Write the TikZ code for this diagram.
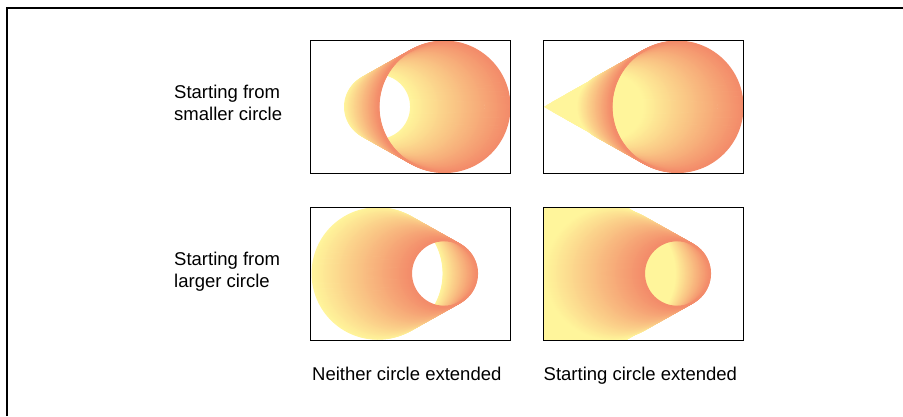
\documentclass[tikz,border=0pt]{standalone}
\usepackage{fontspec}
\setmainfont{Liberation Sans}
\usepackage{tikz}
\definecolor{gStart}{HTML}{FFF59B}
\definecolor{gEnd}{HTML}{F38C6A}

% #1,#2 lower left corner, #3 start radius, #4 end radius, #5 = 1 extends the start circle
\newcommand{\conepanel}[5]{%
  \begin{scope}[shift={(#1,#2)}]
    \begin{scope}
      \clip (0,0) rectangle (200,133);
      \ifnum#5=1
        \foreach \i in {0,...,150} {
          \pgfmathsetmacro{\t}{-\i/50}
          \pgfmathsetmacro{\r}{#3+(#4-#3)*\t}
          \ifdim\r pt>0pt
            \fill[gStart] (67.5+66.5*\t,66.5) circle (\r);
          \fi
        }
      \fi
      \foreach \i in {0,...,100} {
        \pgfmathsetmacro{\r}{#3+(#4-#3)*\i/100}
        \draw[ring, gEnd!\i!gStart] (67.5+0.665*\i,66.5) circle (\r);
      }
    \end{scope}
    \draw[panelbox] (0,0) rectangle (200,133);
  \end{scope}
}

\begin{document}
\begin{tikzpicture}[x=1pt, y=1pt,
    ring/.style={line width=1.5pt},
    panelbox/.style={draw=black, line width=0.9pt},
    lbl/.style={font=\fontsize{18.5}{22}\selectfont, inner sep=0pt, align=left}]
  \useasboundingbox (0,0) rectangle (903,416);
  \draw[line width=1.3pt] (7,0) -- (7,408) -- (903,408);
  \conepanel{310.3}{242.7}{33}{65.5}{0}
  \conepanel{543.3}{242.7}{33}{65.5}{1}
  \conepanel{310.3}{76}{65.5}{33}{0}
  \conepanel{543.3}{76}{65.5}{33}{1}
  \node[lbl, anchor=north west] (smaller) at (174,331.5) {Starting from\\smaller circle};
  \node[lbl, anchor=north west] (larger) at (174,164.5) {Starting from\\larger circle};
  \node[lbl, anchor=base west] (neither) at (312,36) {Neither circle extended};
  \node[lbl, anchor=base west] (extended) at (543.5,36) {Starting circle extended};
\end{tikzpicture}
\end{document}
